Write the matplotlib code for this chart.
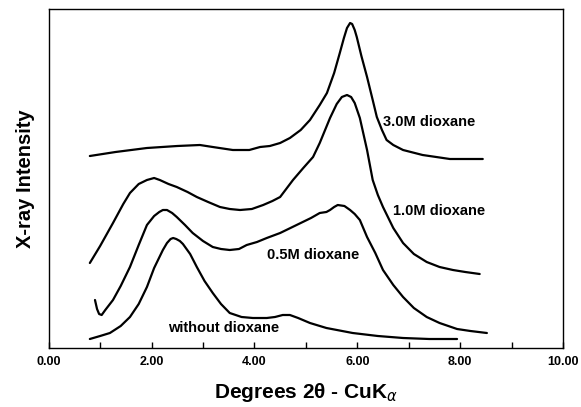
import numpy as np
import matplotlib
matplotlib.use("Agg")
import matplotlib.pyplot as plt
from matplotlib.ticker import MultipleLocator

plt.rcParams['font.family'] = ['Liberation Sans', 'DejaVu Sans']
plt.rcParams['mathtext.fontset'] = 'dejavusans'

# values (2theta, intensity in arbitrary units)
d30_x = [0.80, 1.30, 1.91, 2.50, 2.94, 3.19, 3.58, 3.90, 4.11, 4.30, 4.50, 4.69, 4.90, 5.08, 5.27,
         5.41, 5.55, 5.66, 5.74, 5.80, 5.86, 5.90, 5.95, 5.99, 6.08, 6.19, 6.30, 6.38, 6.48, 6.57,
         6.70, 6.89, 7.27, 7.80, 8.44]
d30_y = [192, 196, 200, 202, 203, 201, 198, 198, 201, 202, 205, 210, 218, 228, 243,
         255, 275, 295, 310, 320, 325, 324, 318, 311, 292, 271, 248, 231, 218, 208,
         203, 198, 193, 189, 189]

d10_x = [0.80, 1.00, 1.25, 1.45, 1.58, 1.75, 1.91, 2.05, 2.16, 2.33, 2.49, 2.70, 2.88, 3.10, 3.33,
         3.52, 3.72, 3.95, 4.17, 4.35, 4.50, 4.75, 4.95, 5.14, 5.27, 5.47, 5.60, 5.70, 5.80, 5.88,
         5.95, 6.05, 6.19, 6.30, 6.40, 6.50, 6.70, 6.89, 7.10, 7.35, 7.60, 7.86, 8.10, 8.38]
d10_y = [85, 102, 125, 144, 155, 164, 168, 170, 168, 164, 161, 156, 151, 146, 141,
         139, 138, 139, 143, 147, 151, 168, 180, 191, 205, 230, 244, 251, 253, 251,
         245, 230, 198, 168, 153, 141, 120, 105, 94, 86, 81, 78, 76, 74]

d05_x = [0.90, 0.94, 0.98, 1.03, 1.10, 1.25, 1.40, 1.58, 1.75, 1.91, 2.05, 2.15, 2.22, 2.30, 2.40,
         2.49, 2.65, 2.80, 3.00, 3.19, 3.35, 3.52, 3.70, 3.85, 4.05, 4.24, 4.50, 4.70, 4.94, 5.10,
         5.27, 5.40, 5.47, 5.55, 5.62, 5.75, 5.86, 5.95, 6.05, 6.19, 6.35, 6.50, 6.70, 6.89, 7.10,
         7.35, 7.60, 7.94, 8.20, 8.52]
d05_y = [48, 39, 34, 33, 38, 48, 62, 81, 103, 123, 132, 136, 138, 138, 135,
         131, 123, 115, 107, 101, 99, 98, 99, 103, 106, 110, 115, 120, 126, 130,
         135, 136, 138, 141, 143, 142, 138, 134, 128, 111, 95, 78, 63, 51, 40,
         31, 25, 19, 17, 15]

d00_x = [0.80, 1.00, 1.19, 1.40, 1.58, 1.75, 1.91, 2.05, 2.22, 2.30, 2.37, 2.42, 2.48, 2.55, 2.61,
         2.75, 2.88, 3.03, 3.19, 3.35, 3.52, 3.75, 3.97, 4.24, 4.40, 4.55, 4.69, 4.85, 5.08, 5.40,
         5.91, 6.40, 6.89, 7.40, 7.94]
d00_y = [9, 12, 15, 22, 31, 44, 61, 80, 98, 105, 109, 110, 109, 107, 104,
         94, 81, 67, 55, 44, 35, 31, 30, 30, 31, 33, 33, 30, 25, 20,
         15, 12, 10, 9, 9]

curves = [(d30_x, d30_y), (d10_x, d10_y), (d05_x, d05_y), (d00_x, d00_y)]
labels = ['3.0M dioxane', '1.0M dioxane', '0.5M dioxane', 'without dioxane']
label_pos = [(6.50, 226), (6.69, 137), (4.24, 93), (2.32, 20)]

fig = plt.figure(figsize=(5.81, 4.07), dpi=100)
ax = fig.add_axes([48.7/581, 59/407, (563-48.7)/581, 339/407])

for (x, y) in curves:
	ax.plot(x, y, color='black', linewidth=1.6, solid_joinstyle='round', solid_capstyle='round')

for lab, (tx, ty) in zip(labels, label_pos):
	ax.text(tx, ty, lab, fontsize=10.5, fontweight='bold', ha='left', va='center')

ax.set_xlim(0, 10)
ax.set_ylim(0, 339)
ax.set_yticks([])
ax.xaxis.set_minor_locator(MultipleLocator(1))
ax.tick_params(axis='x', which='both', direction='in', length=4.5, width=1.0, top=False, pad=6)
ax.set_xticks(np.arange(0, 10.1, 2))
ax.set_xticklabels(['%.2f' % v for v in np.arange(0, 10.1, 2)], fontsize=9, fontweight='bold')
for s in ax.spines.values():
	s.set_linewidth(1.0)

ax.set_xlabel('Degrees 2θ - CuK$_\\alpha$', fontsize=15, fontweight='bold', labelpad=9)
ax.set_ylabel('X-ray Intensity', fontsize=14.5, fontweight='bold', labelpad=10)

fig.savefig('out.png', dpi=100)
